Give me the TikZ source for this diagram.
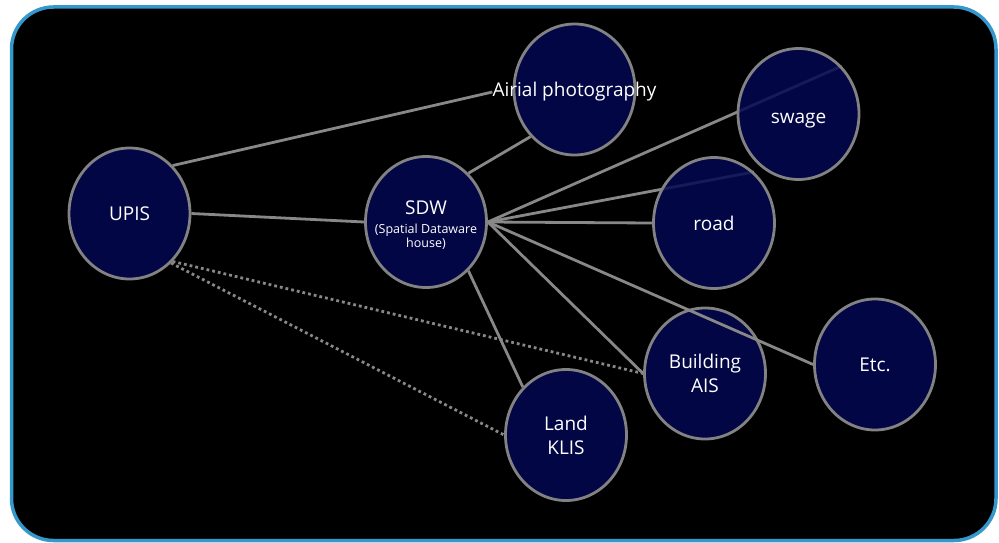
\documentclass[tikz,border=0pt]{standalone}
\usepackage{fontspec}
\setmainfont{Open Sans}
\usetikzlibrary{shapes.geometric}
\definecolor{navy}{RGB}{3,8,80}
\definecolor{edgegray}{RGB}{130,130,130}
\definecolor{linegray}{RGB}{136,136,136}
\definecolor{frameblue}{RGB}{52,152,204}
\pgfdeclarelayer{back}
\pgfsetlayers{back,main}
\begin{document}
\begin{tikzpicture}[x=1pt,y=-1pt,
  bubble/.style={ellipse, draw=edgegray, line width=2.8pt, fill=navy, fill opacity=0.85, text opacity=1,
    minimum width=121pt, minimum height=131pt, inner sep=0pt, text=white, align=center,
    font=\fontsize{19}{24}\selectfont},
  link/.style={draw=linegray, line width=2.8pt},
  dotlink/.style={draw=linegray, line width=2.8pt, dash pattern=on 2.8pt off 3pt}]
\useasboundingbox (0,0) rectangle (999,543);
\begin{pgfonlayer}{back}
\fill[white] (0,0) rectangle (999,543);
\draw[frameblue, line width=3.5pt, fill=black, rounded corners=42pt] (11.5,7) rectangle (996,540.5);
\end{pgfonlayer}

\node[bubble] (upis) at (129.5,213.5) {UPIS};
\node[bubble] (sdw) at (426,222) {};
\node[text=white, inner sep=0pt, align=center, font=\fontsize{19}{24}\selectfont] (sdwtext) at (426,225)
  {SDW\\[-5pt]\fontsize{12.5}{15}\selectfont (Spatial Dataware\\[-10pt]\fontsize{12.5}{15}\selectfont house)};
\node[bubble] (air) at (574.5,89.5) {};
\node[text=white, inner sep=0pt, font=\fontsize{19}{24}\selectfont] (airtext) at (574.5,92) {Airial photography};
\node[bubble, text height=18pt, text depth=0pt] (swage) at (798.5,114) {swage};
\node[bubble] (road) at (714,223) {road};
\node[bubble] (land) at (566,435) {Land\\KLIS};
\node[bubble] (bldg) at (705,373.5) {Building\\AIS};
\node[bubble] (etc) at (875,364.5) {Etc.};

\begin{pgfonlayer}{back}
\draw[link] (upis.48) -- (airtext.west);
\draw[link] (upis.east) -- (sdw.west);
\draw[link] (sdw.49) -- (air.227);
\draw[link] (sdw.east) -- (swage.48);
\draw[link] (sdw.east) -- (road.52);
\draw[link] (sdw.east) -- (road.west);
\draw[link] (sdw.east) -- (bldg.west);
\draw[link] (sdw.311) -- (land.132);
\draw[dotlink] (upis.312) -- (bldg.west);
\draw[dotlink] (upis.310) -- (land.west);
\end{pgfonlayer}
\draw[link] (sdw.east) -- (etc.west);
\end{tikzpicture}
\end{document}
